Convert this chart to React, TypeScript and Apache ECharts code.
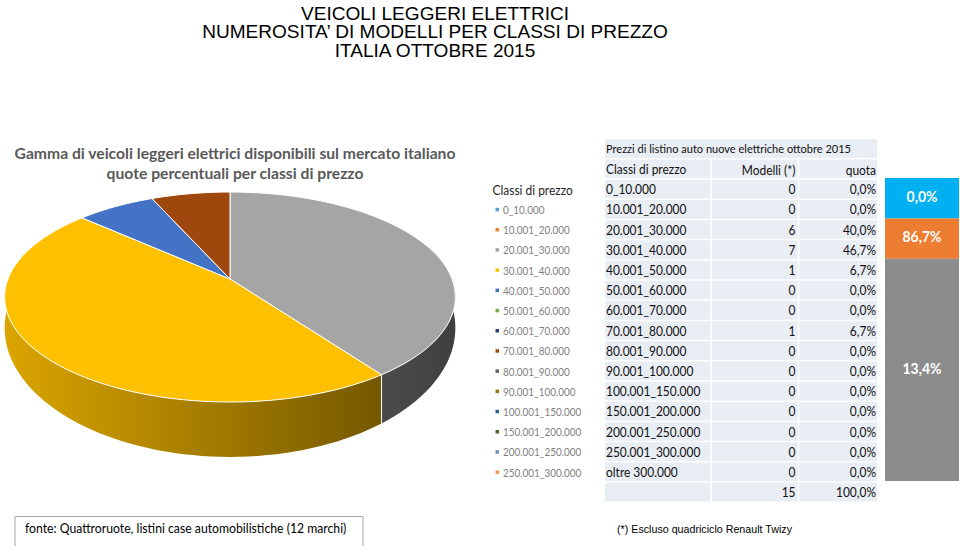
import React, { useEffect, useRef } from "react";
import * as echarts from "echarts";

// ---------------- DATA ----------------
const classi = [
  "0_10.000", "10.001_20.000", "20.001_30.000", "30.001_40.000", "40.001_50.000",
  "50.001_60.000", "60.001_70.000", "70.001_80.000", "80.001_90.000", "90.001_100.000",
  "100.001_150.000", "150.001_200.000", "200.001_250.000", "250.001_300.000", "oltre 300.000",
];
const modelli = [0, 0, 6, 7, 1, 0, 0, 1, 0, 0, 0, 0, 0, 0, 0];
const quota = [0, 0, 40.0, 46.7, 6.7, 0, 0, 6.7, 0, 0, 0, 0, 0, 0, 0];
const totaleModelli = 15;
const totaleQuota = 100.0;
const legendaClassi = classi.slice(0, 14);
const fasceLabel = ["0,0%", "86,7%", "13,4%"];
const fasceRighe = [2, 2, 11];

const titolo = ["VEICOLI LEGGERI ELETTRICI", "NUMEROSITA\u2019 DI MODELLI PER CLASSI DI PREZZO", "ITALIA OTTOBRE 2015"];
const titoloGrafico = ["Gamma di veicoli leggeri elettrici disponibili sul mercato italiano", "quote percentuali per classi di prezzo"];
const titoloTabella = "Prezzi di listino auto nuove elettriche ottobre 2015";
const intestazioni = ["Classi di prezzo", "Modelli (*)", "quota"];
const fonte = "fonte: Quattroruote, listini case automobilistiche (12 marchi)";
const nota = "(*) Escluso quadriciclo Renault Twizy";

// ---------------- STYLE ----------------
const palette = ["#5B9BD5", "#ED7D31", "#A5A5A5", "#FFC000", "#4472C4", "#70AD47", "#264478", "#9E480E", "#636363", "#997300", "#255E91", "#43682B", "#698ED0", "#F1975A"];
const fasceColori = ["#00B0F0", "#ED7D31", "#8C8C8C"];
const TBG = "#E9EDF4";
const FONT = "Lato";
const SX = 0.92;
const colX = [605, 711, 798.5, 877];
const BOX_X = 885, BOX_W = 74;

const P = { cx: 230, cy: 279, rx: 222, ry: 101.9, a: 0.1716, cyB: 306, ryB: 125 };

function rim(phiDeg: number, bottom: boolean): number[] {
  const p = (phiDeg * Math.PI) / 180;
  const u = Math.cos(p), v = Math.sin(p);
  const d = 1 - P.a * v;
  return [P.cx + (P.rx * u) / d, (bottom ? P.cyB : P.cy) + ((bottom ? P.ryB : P.ry) * v) / d];
}

function shade(hex: string, f: number): string {
  const n = parseInt(hex.slice(1), 16);
  const r = Math.round(((n >> 16) & 255) * f);
  const g = Math.round(((n >> 8) & 255) * f);
  const b = Math.round((n & 255) * f);
  return `rgb(${r},${g},${b})`;
}

const fmt = (v: number) => v.toFixed(1).replace(".", ",") + "%";

export default function App() {
  const ref = useRef<HTMLDivElement>(null);
  useEffect(() => {
    if (!ref.current) return;
    const chart = echarts.init(ref.current, undefined, { renderer: "svg" });

    const pieValues = legendaClassi.map((_, i) => modelli[i]);
    const total = pieValues.reduce((s, v) => s + v, 0);
    const angles: number[][] = [];
    let acc = -90;
    pieValues.forEach((v) => {
      const span = (v / total) * 360;
      angles.push([acc, acc + span]);
      acc += span;
    });

    const arc = (s: number, e: number, bottom: boolean) => {
      const pts: number[][] = [];
      const n = Math.max(2, Math.ceil((e - s) / 2));
      for (let k = 0; k <= n; k++) pts.push(rim(s + ((e - s) * k) / n, bottom));
      return pts;
    };

    const pieTop = (params: any, api: any) => {
      const i = params.dataIndex;
      if (!api.value(0)) return null;
      const [s, e] = angles[i];
      const pts = [[P.cx, P.cy], ...arc(s, e, false)];
      return {
        type: "polygon",
        shape: { points: pts },
        style: { fill: palette[i], stroke: "#ffffff", lineWidth: 1, lineJoin: "round" },
      };
    };

    const pieSide = (params: any, api: any) => {
      const i = params.dataIndex;
      if (!api.value(0)) return null;
      const [s0, e0] = angles[i];
      const s = Math.max(s0, -20), e = Math.min(e0, 200);
      if (s >= e) return null;
      const top = arc(s, e, false);
      const bot = arc(s, e, true).reverse();
      const children: any[] = [
        {
          type: "polygon",
          shape: { points: [...top, ...bot] },
          style: {
            fill: {
              type: "linear", x: 4, y: 0, x2: 455, y2: 0, global: true,
              colorStops: [
                { offset: 0, color: shade(palette[i], 0.86) },
                { offset: 1, color: shade(palette[i], 0.38) },
              ],
            },
          },
        },
      ];
      [s0, e0].forEach((ang) => {
        if (ang > 0 && ang < 180) {
          const t = rim(ang, false), b = rim(ang, true);
          children.push({ type: "line", shape: { x1: t[0], y1: t[1], x2: b[0], y2: b[1] }, style: { stroke: "#ffffff", lineWidth: 1 } });
        }
      });
      return { type: "group", children };
    };

    const rowInfo = (api: any, idx: number) => {
      const y = api.coord([0, idx])[1];
      const h = api.size([0, 1])[1];
      return { y, h, top: y - h / 2 };
    };

    const cellRects = (top: number, h: number, merged: boolean) => {
      if (merged) {
        return [{ type: "rect", shape: { x: colX[0], y: top + 0.75, width: colX[3] - colX[0], height: h - 1.5 }, style: { fill: TBG } }];
      }
      return [0, 1, 2].map((k) => ({
        type: "rect",
        shape: { x: colX[k] + (k ? 0.8 : 0), y: top + 0.75, width: colX[k + 1] - colX[k] - (k ? 0.8 : 0) - (k < 2 ? 0.8 : 0), height: h - 1.5 },
        style: { fill: TBG },
      }));
    };

    const txt = (text: string, x: number, y: number, align: string, extra: any = {}, sx: number = SX) => ({
      type: "text",
      x, y, scaleX: sx,
      style: { text, x: 0, y: 0, align, verticalAlign: "middle", fill: "#111111", fontSize: 13, fontFamily: FONT, ...extra },
    });

    const tableRow = (params: any, api: any) => {
      const i = params.dataIndex;
      const { y, h, top } = rowInfo(api, api.value(1));
      const children: any[] = [
        ...cellRects(top, h, false),
        txt(classi[i], colX[0] + 1, y + 0.5, "left"),
        txt(String(modelli[i]), colX[2] - 3, y + 0.5, "right"),
        txt(fmt(quota[i]), colX[3] - 1, y + 0.5, "right"),
      ];
      if (i === 0) {
        const hy = y - h, ty = y - 2 * h;
        children.push(...cellRects(top - h, h, false));
        children.push(txt(intestazioni[0], colX[0] + 1, hy, "left"));
        children.push(txt(intestazioni[1], colX[2] - 3, hy + 1, "right"));
        children.push(txt(intestazioni[2], colX[3] - 1, hy + 1, "right"));
        children.push(...cellRects(top - 2 * h, h, true));
        children.push(txt(titoloTabella, colX[0] + 1, ty, "left", { fontSize: 12 }));
      }
      if (i === classi.length - 1) {
        const ny = y + h;
        children.push(...cellRects(top + h, h, false));
        children.push(txt(String(totaleModelli), colX[2] - 3, ny + 0.5, "right"));
        children.push(txt(fmt(totaleQuota), colX[3] - 1, ny + 0.5, "right"));
      }
      return { type: "group", children };
    };

    const legendRow = (params: any, api: any) => {
      const i = params.dataIndex;
      const { y } = rowInfo(api, api.value(1));
      return {
        type: "group",
        children: [
          { type: "rect", shape: { x: 495.5, y: y - 1.5, width: 3.5, height: 3.5 }, style: { fill: palette[i] } },
          txt(legendaClassi[i], 503, y + 0.5, "left", { fontSize: 10.8, fill: "#7F7F7F" }),
        ],
      };
    };

    const fasceStart: number[] = [];
    let r = 0;
    fasceRighe.forEach((n) => { fasceStart.push(r); r += n; });

    const bandRow = (params: any, api: any) => {
      const i = params.dataIndex;
      const a = rowInfo(api, api.value(1));
      const b = rowInfo(api, api.value(2));
      const y1 = a.top - 1;
      const y2 = b.top + b.h - 1;
      return {
        type: "group",
        children: [
          { type: "rect", shape: { x: BOX_X, y: y1, width: BOX_W, height: y2 - y1 }, style: { fill: fasceColori[i] } },
          txt(fasceLabel[i], BOX_X + BOX_W / 2, (y1 + y2) / 2 - 2, "center", { fill: "#ffffff", fontWeight: "bold", fontSize: 15.2 }),
        ],
      };
    };

    const gtext = (text: string, x: number, y: number, align: string, style: any, sx = 1) => ({
      type: "text", z: 10, x, y, scaleX: sx,
      style: { text, x: 0, y: 0, align, verticalAlign: "middle", ...style },
    });

    const option: any = {
      animation: false,
      backgroundColor: "#ffffff",
      grid: { left: 605, top: 179, width: 355, height: 303 },
      xAxis: { type: "value", min: 0, max: 1, show: false },
      yAxis: { type: "category", data: classi, inverse: true, show: false },
      series: [
        {
          type: "custom", name: "lati", coordinateSystem: "none", z: 1, silent: true,
          renderItem: pieSide,
          data: legendaClassi.map((n, i) => ({ name: n, value: pieValues[i] })),
        },
        {
          type: "custom", name: "quote", coordinateSystem: "none", z: 2, silent: true,
          renderItem: pieTop,
          data: legendaClassi.map((n, i) => ({ name: n, value: pieValues[i] })),
        },
        {
          type: "custom", name: "tabella", coordinateSystem: "cartesian2d", z: 3, silent: true,
          renderItem: tableRow,
          data: classi.map((c, i) => [0, i]),
        },
        {
          type: "custom", name: "legenda", coordinateSystem: "cartesian2d", z: 3, silent: true,
          renderItem: legendRow,
          data: legendaClassi.map((c, i) => [0, i + 1]),
        },
        {
          type: "custom", name: "fasce", coordinateSystem: "cartesian2d", z: 3, silent: true,
          renderItem: bandRow,
          data: fasceLabel.map((l, i) => [0, fasceStart[i], fasceStart[i] + fasceRighe[i] - 1]),
        },
      ],
      graphic: [
        ...titolo.map((t, k) =>
          gtext(t, 435, 13.6 + k * 18.35, "center", { fill: "#000000", fontSize: 18, fontFamily: "Liberation Sans" }, 1.06)
        ),
        ...titoloGrafico.map((t, k) =>
          gtext(t, 235, 153 + k * 20, "center", { fill: "#595959", fontSize: 15.7, fontWeight: "bold", fontFamily: FONT })
        ),
        gtext(intestazioni[0], 492.5, 190, "left", { fill: "#262626", fontSize: 13, fontFamily: FONT }, SX),
        {
          type: "rect", z: 10,
          shape: { x: 15, y: 516.5, width: 348, height: 40 },
          style: { fill: "#ffffff", stroke: "#A6A6A6", lineWidth: 1 },
        },
        { ...gtext(fonte, 25, 527.5, "left", { fill: "#000000", fontSize: 13.3, fontFamily: FONT }, SX), z: 11 },
        gtext(nota, 617, 529, "left", { fill: "#000000", fontSize: 10.7, fontFamily: "Liberation Sans" }),
      ],
    };
    chart.setOption(option);
    return () => chart.dispose();
  }, []);
  return <div ref={ref} style={{ position: "fixed", left: 0, top: 0, width: 960, height: 546 }} />;
}
